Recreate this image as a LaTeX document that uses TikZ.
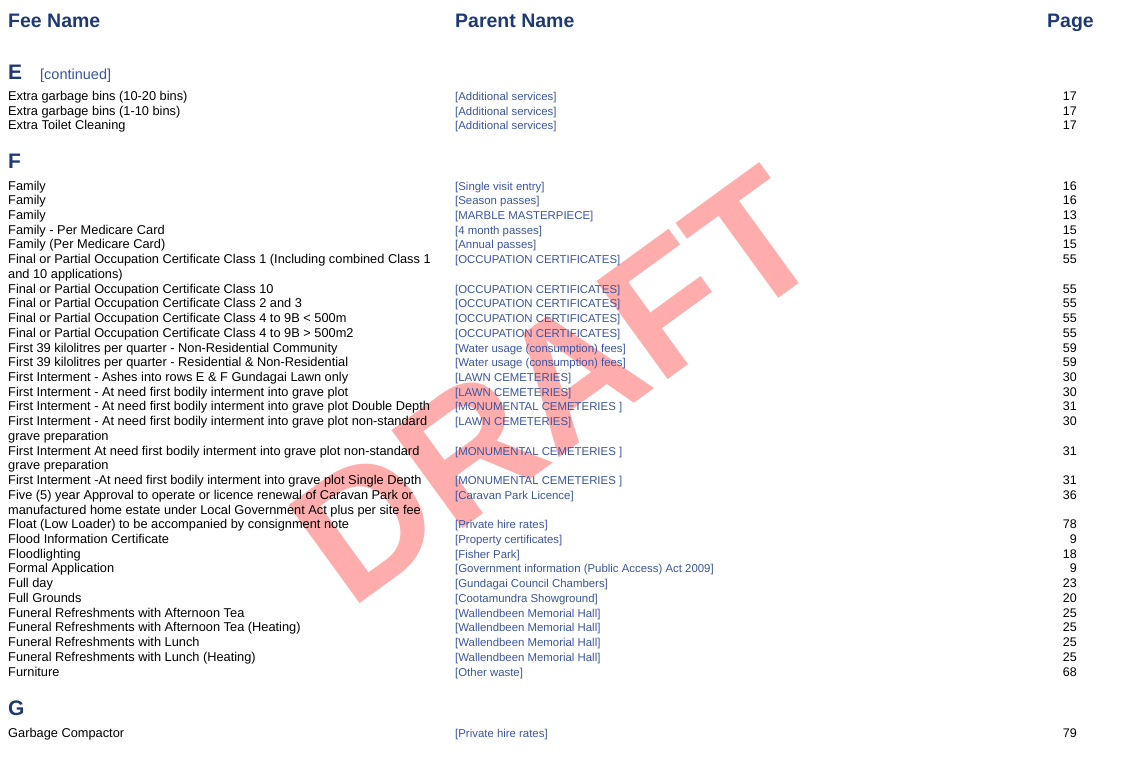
\documentclass[tikz,border=0pt]{standalone}
\usepackage{fontspec}
\setmainfont{Liberation Sans}
\definecolor{hdr}{HTML}{1F3A73}
\definecolor{par}{HTML}{3A55A0}
\definecolor{wm}{HTML}{FF5A5A}
\begin{document}
\begin{tikzpicture}[x=1pt,y=-1pt,
  fee/.style={anchor=base west,inner sep=0pt,font=\fontsize{12.8}{13}\selectfont},
  parent/.style={anchor=base west,inner sep=0pt,text=par,font=\fontsize{11.4}{12}\selectfont},
  pg/.style={anchor=base east,inner sep=0pt,font=\fontsize{12.5}{13}\selectfont},
  head/.style={anchor=base west,inner sep=0pt,text=hdr,font=\fontsize{19.5}{20}\selectfont\bfseries},
  sect/.style={anchor=base west,inner sep=0pt,text=hdr,font=\fontsize{21}{21}\selectfont\bfseries}]
\useasboundingbox (0,0) rectangle (1134,782);
\node[rotate=36,text=wm,opacity=0.5,font=\fontsize{176}{176}\selectfont\bfseries] (wmk) at (556,386) {DRAFT};
\node[head] (h1) at (8,27) {Fee Name};
\node[head] (h2) at (455,27) {Parent Name};
\node[head,anchor=base east] (h3) at (1094,27) {Page};
\node[sect] (se) at (8,79) {E};
\node[anchor=base west,inner sep=0pt,text=par,font=\fontsize{14.5}{15}\selectfont] (cont) at (40,79) {[continued]};
\newcommand\rowat[5]{%
  \node[fee] (fa#1) at (8,#2) {#3};
  \node[parent] (pa#1) at (455,#2) {#4};
  \node[pg] (pg#1) at (1077,#2) {#5};}
\newcommand\cont[3]{\node[fee] (fc#1) at (8,#2) {#3};}
\rowat{e1}{100}{Extra garbage bins (10-20 bins)}{[Additional services]}{17}
\rowat{e2}{115}{Extra garbage bins (1-10 bins)}{[Additional services]}{17}
\rowat{e3}{129.5}{Extra Toilet Cleaning}{[Additional services]}{17}
\node[sect] (sf) at (8,168) {F};
\newcommand\R[4]{\pgfmathsetmacro\yy{190+14.727*(#1-1)}\rowat{#1}{\yy}{#2}{#3}{#4}}
\newcommand\C[2]{\pgfmathsetmacro\yy{190+14.727*(#1-1)}\cont{#1}{\yy}{#2}}
\R{1}{Family}{[Single visit entry]}{16}
\R{2}{Family}{[Season passes]}{16}
\R{3}{Family}{[MARBLE MASTERPIECE]}{13}
\R{4}{Family - Per Medicare Card}{[4 month passes]}{15}
\R{5}{Family (Per Medicare Card)}{[Annual passes]}{15}
\R{6}{Final or Partial Occupation Certificate Class 1 (Including combined Class 1}{[OCCUPATION CERTIFICATES]}{55}
\C{7}{and 10 applications)}
\R{8}{Final or Partial Occupation Certificate Class 10}{[OCCUPATION CERTIFICATES]}{55}
\R{9}{Final or Partial Occupation Certificate Class 2 and 3}{[OCCUPATION CERTIFICATES]}{55}
\R{10}{Final or Partial Occupation Certificate Class 4 to 9B < 500m}{[OCCUPATION CERTIFICATES]}{55}
\R{11}{Final or Partial Occupation Certificate Class 4 to 9B > 500m2}{[OCCUPATION CERTIFICATES]}{55}
\R{12}{First 39 kilolitres per quarter - Non-Residential Community}{[Water usage (consumption) fees]}{59}
\R{13}{First 39 kilolitres per quarter - Residential \& Non-Residential}{[Water usage (consumption) fees]}{59}
\R{14}{First Interment - Ashes into rows E \& F Gundagai Lawn only}{[LAWN CEMETERIES]}{30}
\R{15}{First Interment - At need first bodily interment into grave plot}{[LAWN CEMETERIES]}{30}
\R{16}{First Interment - At need first bodily interment into grave plot Double Depth}{[MONUMENTAL CEMETERIES ]}{31}
\R{17}{First Interment - At need first bodily interment into grave plot non-standard}{[LAWN CEMETERIES]}{30}
\C{18}{grave preparation}
\R{19}{First Interment At need first bodily interment into grave plot non-standard}{[MONUMENTAL CEMETERIES ]}{31}
\C{20}{grave preparation}
\R{21}{First Interment -At need first bodily interment into grave plot Single Depth}{[MONUMENTAL CEMETERIES ]}{31}
\R{22}{Five (5) year Approval to operate or licence renewal of Caravan Park or}{[Caravan Park Licence]}{36}
\C{23}{manufactured home estate under Local Government Act plus per site fee}
\R{24}{Float (Low Loader) to be accompanied by consignment note}{[Private hire rates]}{78}
\R{25}{Flood Information Certificate}{[Property certificates]}{9}
\R{26}{Floodlighting}{[Fisher Park]}{18}
\R{27}{Formal Application}{[Government information (Public Access) Act 2009]}{9}
\R{28}{Full day}{[Gundagai Council Chambers]}{23}
\R{29}{Full Grounds}{[Cootamundra Showground]}{20}
\R{30}{Funeral Refreshments with Afternoon Tea}{[Wallendbeen Memorial Hall]}{25}
\R{31}{Funeral Refreshments with Afternoon Tea (Heating)}{[Wallendbeen Memorial Hall]}{25}
\R{32}{Funeral Refreshments with Lunch}{[Wallendbeen Memorial Hall]}{25}
\R{33}{Funeral Refreshments with Lunch (Heating)}{[Wallendbeen Memorial Hall]}{25}
\R{34}{Furniture}{[Other waste]}{68}
\node[sect] (sg) at (8,715) {G};
\rowat{g1}{737}{Garbage Compactor}{[Private hire rates]}{79}
\end{tikzpicture}
\end{document}
